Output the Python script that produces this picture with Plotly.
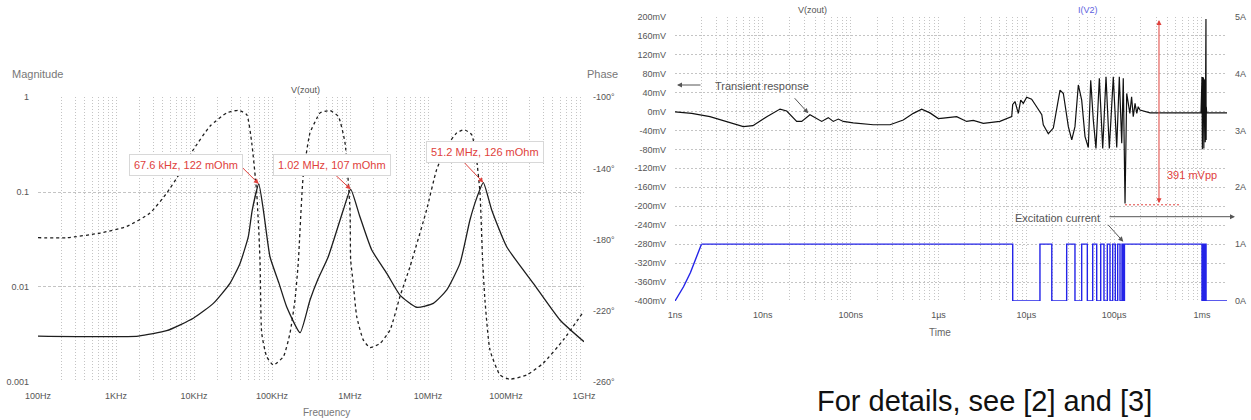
import numpy as np
import plotly.graph_objects as go

W, H = 1251, 420
def px(x): return x / W
def py(y): return 1 - y / H

# ---------------- Left chart data (Bode) ----------------
mag_freq = [100, 1930, 4470, 9800, 17700, 28900, 38900, 49700, 55800, 67600, 77500, 94200,
            123000, 154000, 229000, 307000, 389000, 523000, 820000, 1.02e6, 1.34e6, 1.90e6,
            2.96e6, 4.37e6, 7.16e6, 11.7e6, 17.4e6, 25.7e6, 34.5e6, 42.4e6, 51.2e6, 65.6e6,
            102e6, 224e6, 492e6, 1e9]
mag_vals = [0.00303, 0.00303, 0.00345, 0.00467, 0.0067, 0.0109, 0.0177, 0.0339, 0.0647, 0.122,
            0.0647, 0.0208, 0.0109, 0.00618, 0.00329, 0.00728, 0.0121, 0.0205, 0.0647, 0.107,
            0.055, 0.0245, 0.0139, 0.0082, 0.0061, 0.0067, 0.0093, 0.0177, 0.0508, 0.088,
            0.126, 0.0647, 0.0265, 0.0109, 0.00448, 0.00264]

phase_freq = [100, 233, 624, 1370, 2730, 4470, 6600, 9800, 16000, 26200, 37000, 47400, 55000,
              63700, 70200, 73800, 85500, 104000, 140000, 170000, 197000, 217000, 251000,
              307000, 374000, 412000, 554000, 708000, 863000, 1.0e6, 1.02e6, 1.10e6, 1.22e6,
              1.48e6, 1.8e6, 2.43e6, 3.26e6, 4.37e6, 5.89e6, 6.8e6, 9.6e6, 12.9e6, 17.4e6,
              23.3e6, 28.9e6, 36.3e6, 42e6, 46.4e6, 50.1e6, 53.7e6, 62.3e6, 83.8e6, 112e6,
              184e6, 300e6, 543e6, 1e9]
phase_deg = [-179, -179, -176.4, -172.7, -165.1, -153.9, -142.6, -129.5, -116.3, -108.8, -107.3,
             -109.7, -125.7, -153.9, -191.4, -232.7, -245.9, -250.6, -245.9, -232.7, -214,
             -193.3, -144.5, -120, -112, -108.8, -107.5, -110.7, -125.7, -163.3, -191.4, -204.6,
             -223.4, -236.5, -240.8, -238.4, -230.9, -212.1, -195.2, -186, -163.3, -140.7,
             -127.6, -120.1, -118.2, -121, -135.1, -153.9, -191.4, -214, -242.1, -256.2,
             -258.6, -256.2, -249.6, -236.5, -220.2]

peak_freq = [67.6e3, 1.02e6, 51.2e6]
peak_mag = [0.122, 0.107, 0.126]
peak_labels = ["67.6 kHz, 122 mOhm", "1.02 MHz, 107 mOhm", "51.2 MHz, 126 mOhm"]

freq_tickvals = [1e2, 1e3, 1e4, 1e5, 1e6, 1e7, 1e8, 1e9]
freq_ticktext = ["100Hz", "1KHz", "10KHz", "100KHz", "1MHz", "10MHz", "100MHz", "1GHz"]
mag_tickvals = [1, 0.1, 0.01, 0.001]
mag_ticktext = ["1", "0.1", "0.01", "0.001"]
phase_tickvals = [-100, -140, -180, -220, -260]
phase_ticktext = ["-100°", "-140°", "-180°", "-220°", "-260°"]

# ---------------- Right chart data (transient) ----------------
vz_t = [1e-9, 1.55e-9, 2.5e-9, 3.9e-9, 6.0e-9, 7.7e-9, 11.1e-9, 15.7e-9, 18.7e-9, 24.3e-9,
        27.7e-9, 34.4e-9, 41e-9, 46.8e-9, 55.6e-9, 63.4e-9, 72.3e-9, 82.4e-9, 107e-9, 181e-9,
        281e-9, 397e-9, 517e-9, 644e-9, 800e-9, 995e-9, 1.135e-6, 1.61e-6, 2.09e-6, 2.49e-6,
        3.24e-6, 4.6e-6, 5.0e-6, 6.82e-6, 7.0e-6, 7.43e-6, 8.11e-6, 8.63e-6, 9.24e-6, 10.1e-6,
        11.5e-6, 13.1e-6, 15.0e-6, 15.6e-6, 17.8e-6, 20.3e-6, 24.2e-6, 26.4e-6, 30.1e-6,
        32.9e-6, 35.8e-6, 39.1e-6, 42.7e-6, 46.6e-6, 50.8e-6, 54.1e-6, 57.9e-6, 62.1e-6,
        67.8e-6, 74.1e-6, 80.8e-6, 88.1e-6, 97.8e-6, 107e-6, 114.5e-6, 122e-6, 127e-6,
        133e-6, 139e-6, 151e-6, 158e-6, 165e-6, 173e-6, 181e-6, 188e-6, 197e-6, 256e-6,
        975e-6, 1.00e-3, 1.01e-3, 1.02e-3, 1.03e-3, 1.04e-3, 1.05e-3, 1.06e-3, 1.07e-3,
        1.08e-3, 1.09e-3, 1.10e-3, 1.11e-3, 1.115e-3, 1.12e-3, 1.13e-3, 1.93e-3]
vz_mv = [-1, -4, -11, -21, -32, -30, -11, 5, 1, -21,
         -21, -7, -14, -21, -13, -21, -16, -21, -24, -28,
         -28, -18, -4, 5, -3, -15, -14, -11, -21, -19,
         -25, -21, -21, -11, 15, 21, -4, 24, 17, 30,
         26, 10, -7, -28, -47, -35, 45, 38, -32,
         -60, -32, 56, 24, -53, -76, 66, -18, -78,
         70, -78, 73, -78, 73, -76, 73, -67, 70,
         -194, 38, -4, 31, -11, 17, -4, 10, 3, -3,
         -3, 73, -80, 72, -80, 70, -78, 68, -75,
         60, -65, 50, 195, -60, 10, -3, -3]

ramp_t = [1e-9, 1.25e-9, 1.5e-9, 1.75e-9, 2e-9]
ramp_a = [0, 0.25, 0.5, 0.75, 1]
step_t = [2e-9, 7.0e-6, 14.3e-6, 19.5e-6, 28.8e-6, 35.8e-6, 42.7e-6, 49.5e-6, 57e-6, 63.3e-6,
          70.3e-6, 76.6e-6, 83.6e-6, 89.7e-6, 96.3e-6, 103e-6, 109.7e-6, 116.6e-6, 122.8e-6,
          127e-6, 131e-6, 1.000e-3, 1.01e-3, 1.02e-3, 1.03e-3, 1.04e-3, 1.05e-3, 1.06e-3,
          1.07e-3, 1.08e-3, 1.09e-3, 1.10e-3, 1.11e-3, 1.113e-3, 1.93e-3]
step_a = [1, 0, 1, 0, 1, 0, 1, 0, 1, 0,
          1, 0, 1, 0, 1, 0, 1, 0, 1,
          0, 1, 0, 1, 0, 1, 0, 1, 0,
          1, 0, 1, 0, 1, 0, 0]

vpp_t = [133e-6, 562e-6]
vpp_low_mv = -197
vpp_high_mv = 193
vpp_arrow_t = 324e-6

time_tickvals = [1e-9, 1e-8, 1e-7, 1e-6, 1e-5, 1e-4, 1e-3]
time_ticktext = ["1ns", "10ns", "100ns", "1µs", "10µs", "100µs", "1ms"]
mv_tickvals = [200, 160, 120, 80, 40, 0, -40, -80, -120, -160, -200, -240, -280, -320, -360, -400]
mv_ticktext = [f"{v}mV" for v in mv_tickvals]
amp_tickvals = [0, 1, 2, 3, 4, 5]
amp_ticktext = ["0A", "1A", "2A", "3A", "4A", "5A"]

# grid positions (1..9 per decade)
freq_grid = [m * 10 ** d for d in range(2, 9) for m in range(1, 10)] + [1e9]
freq_grid_text = [freq_ticktext[freq_tickvals.index(v)] if v in freq_tickvals else "" for v in freq_grid]
time_grid = [m * 10.0 ** d for d in range(-9, -3) for m in range(1, 10)] + [1e-3]
time_grid_text = []
for v in time_grid:
    lab = ""
    for tv, tt in zip(time_tickvals, time_ticktext):
        if abs(v / tv - 1) < 1e-6:
            lab = tt
    time_grid_text.append(lab)

GRID = "#c4c4c4"
TICKC = "#555555"
RED = "#e0413c"
BLUE = "#2424e8"
FONT = "Arial, Liberation Sans, sans-serif"
tickfont = dict(family=FONT, size=9, color=TICKC)

fig = go.Figure()

fig.add_trace(go.Scatter(x=mag_freq, y=mag_vals, xaxis="x", yaxis="y", mode="lines",
                         line=dict(color="#1e1e1e", width=1.3, shape="spline", smoothing=0.5),
                         showlegend=False))
fig.add_trace(go.Scatter(x=[None], y=[None], xaxis="x", yaxis="y5", showlegend=False))
fig.add_trace(go.Scatter(x=phase_freq, y=phase_deg, xaxis="x", yaxis="y2", mode="lines",
                         line=dict(color="#1e1e1e", width=1.3, dash="3px,3px",
                                   shape="spline", smoothing=0.5),
                         showlegend=False))

fig.add_trace(go.Scatter(x=vz_t, y=vz_mv, xaxis="x2", yaxis="y3", mode="lines",
                         line=dict(color="#111111", width=1.2), showlegend=False))
fig.add_trace(go.Scatter(x=[None], y=[None], xaxis="x2", yaxis="y6", showlegend=False))
fig.add_trace(go.Scatter(x=ramp_t, y=ramp_a, xaxis="x2", yaxis="y4", mode="lines",
                         line=dict(color=BLUE, width=1.4), showlegend=False))
fig.add_trace(go.Scatter(x=step_t, y=step_a, xaxis="x2", yaxis="y4", mode="lines",
                         line=dict(color=BLUE, width=1.4, shape="hv"), showlegend=False))
fig.add_trace(go.Scatter(x=vpp_t, y=[vpp_low_mv, vpp_low_mv], xaxis="x2", yaxis="y3", mode="lines",
                         line=dict(color=RED, width=1, dash="2px,2px"), showlegend=False))

common_x = dict(showline=False, zeroline=False, ticks="", tickfont=tickfont, automargin=False,
                showgrid=True, gridcolor=GRID, griddash="1px,2px", gridwidth=1,
                ticklabelstandoff=7)
noax = dict(ticks="", showline=False, zeroline=False, automargin=False)

fig.update_layout(
    template="none",
    width=W, height=H,
    margin=dict(l=0, r=0, t=0, b=0, autoexpand=False),
    paper_bgcolor="white", plot_bgcolor="white",
    font=dict(family=FONT, color=TICKC),
    xaxis=dict(type="log", range=[2, 9], domain=[px(38), px(584)], anchor="y",
               tickvals=freq_grid, ticktext=freq_grid_text, **common_x),
    yaxis=dict(type="log", range=[-3, 0], domain=[py(381.7), py(97.3)], anchor="x",
               tickvals=[0.1, 0.01], showticklabels=False,
               showgrid=True, gridcolor=GRID, griddash="3px,2px", gridwidth=1, **noax),
    yaxis5=dict(type="log", range=[-3, 0], overlaying="y", anchor="x", side="left",
                tickvals=mag_tickvals, ticktext=mag_ticktext, tickfont=tickfont,
                showgrid=False, ticklabelstandoff=8, **noax),
    yaxis2=dict(range=[-260, -100], overlaying="y", anchor="x", side="right",
                tickvals=phase_tickvals, ticktext=phase_ticktext, tickfont=tickfont,
                showgrid=False, ticklabelstandoff=8, **noax),
    xaxis2=dict(type="log", range=[-9, -9 + 552 / 87.83], domain=[px(675), px(1227)], anchor="y3",
                tickvals=time_grid, ticktext=time_grid_text, **common_x),
    yaxis3=dict(range=[-400, 200], domain=[py(301), py(16.7)], anchor="x2",
                tickvals=[-360, -320, -280, -240, -200, -160, -120, -80, -40, 0, 40, 80, 120, 160],
                showticklabels=False,
                showgrid=True, gridcolor=GRID, griddash="2px,2px", gridwidth=1, **noax),
    yaxis6=dict(range=[-400, 200], overlaying="y3", anchor="x2", side="left",
                tickvals=mv_tickvals, ticktext=mv_ticktext, tickfont=tickfont,
                showgrid=False, ticklabelstandoff=8, **noax),
    yaxis4=dict(range=[0, 5], overlaying="y3", anchor="x2", side="right",
                tickvals=amp_tickvals, ticktext=amp_ticktext, tickfont=tickfont,
                showgrid=False, ticklabelstandoff=7, **noax),
)

ann = []
def text(x, y, s, size=11, color="#666666", xanchor="center", **kw):
    ann.append(dict(x=px(x), y=py(y), xref="paper", yref="paper", text=s, showarrow=False,
                    xanchor=xanchor, yanchor="middle",
                    font=dict(size=size, color=color, family=FONT), **kw))

def arrow(hx, hy, tx, ty, color="#444444", width=1, side="end"):
    ann.append(dict(x=px(hx), y=py(hy), xref="paper", yref="paper", text="", showarrow=True,
                    ax=tx - hx, ay=ty - hy, axref="pixel", ayref="pixel",
                    arrowhead=2, arrowsize=1, arrowwidth=width, arrowcolor=color,
                    arrowside=side, standoff=0, startstandoff=0))

text(10, 74, "Magnitude", size=11, color="#777777", xanchor="left")
text(585, 74, "Phase", size=11, color="#777777", xanchor="left")
text(305, 90, "V(zout)", size=9, color="#555555")
text(326, 412, "Frequency", size=10, color="#777777")
text(812, 10, "V(zout)", size=9, color="#555555")
text(1088, 10, "I(V2)", size=9, color="#6060e0")
text(940, 332, "Time", size=10, color="#666666")
text(985, 401, "For details, see [2] and [3]", size=29, color="#111111")

# peak label boxes
box_pos = [(185.5, 165.5), (332, 165), (485, 151.5)]
arrow_tail = [(-23, -23), (-17, -16), (-20, -21)]
for f, m, lab, (bx, by), (dx, dy) in zip(peak_freq, peak_mag, peak_labels, box_pos, arrow_tail):
    ann.append(dict(x=np.log10(f), y=np.log10(m), xref="x", yref="y", text="", showarrow=True,
                    ax=dx, ay=dy, axref="pixel", ayref="pixel", arrowhead=2, arrowsize=1,
                    arrowwidth=1, arrowcolor=RED, standoff=0))
    text(bx, by, lab, size=11, color=RED, bgcolor="white", bordercolor="#d8d8d8",
         borderwidth=1, borderpad=4)

# right chart annotations
text(713, 86, "Transient response", size=11, color="#555555", xanchor="left")
arrow(677, 85, 702, 85, color="#555555")
arrow(808.3, 113.3, 793.3, 96.7, color="#555555")
text(1013, 218, "Excitation current", size=11, color="#555555", xanchor="left")
arrow(1235, 216.7, 1108, 216.7, color="#555555")
arrow(1123.3, 241.7, 1106.7, 223.3, color="#555555")
ann.append(dict(x=np.log10(vpp_arrow_t), y=vpp_high_mv, xref="x2", yref="y3", text="",
                showarrow=True, ax=np.log10(vpp_arrow_t), ay=vpp_low_mv, axref="x2", ayref="y3",
                arrowhead=2, arrowsize=1, arrowwidth=1, arrowcolor=RED,
                arrowside="end+start", standoff=0, startstandoff=0))
text(1165, 175, "391 mVpp", size=11, color=RED, xanchor="left")

fig.update_layout(annotations=ann)
fig.write_html("out.html")
